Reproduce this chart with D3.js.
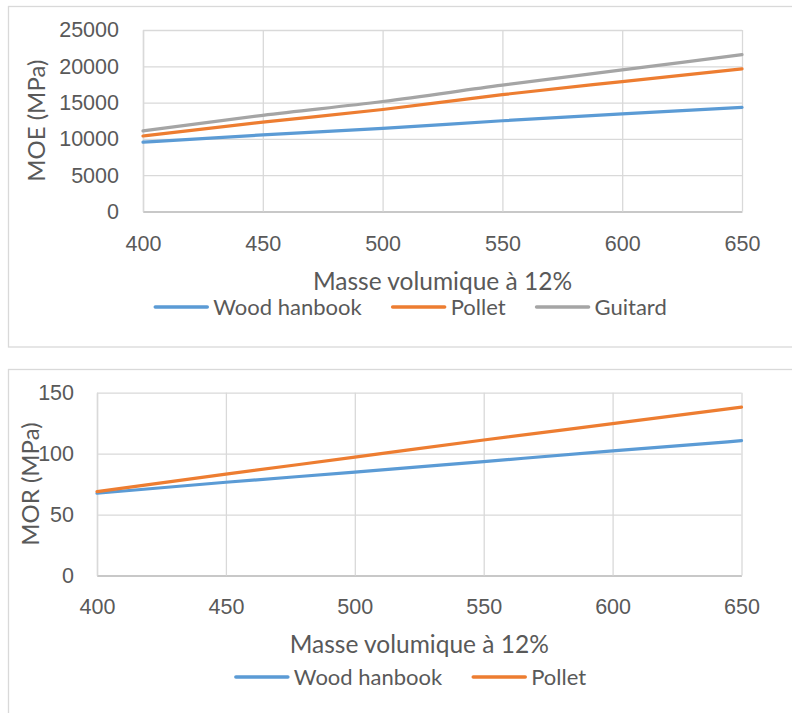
<!DOCTYPE html>
<html>
<head>
<meta charset="utf-8">
<script src="https://cdn.jsdelivr.net/npm/d3@7"></script>
<style>
  html, body { margin: 0; padding: 0; background: #fff; }
  svg { display: block; font-family: Lato, "Open Sans", sans-serif; }
</style>
</head>
<body>
<svg id="chart" width="792" height="713"></svg>
<script>
// ---- data ----
const densities = [400, 450, 500, 550, 600, 650];
const moeWood = [9550, 10550, 11450, 12500, 13450, 14350];
const moePollet = [10400, 12300, 14050, 16100, 17900, 19650];
const moeGuitard = [11100, 13250, 15150, 17400, 19500, 21600];
const morWood = [67.5, 76.5, 84.8, 93.5, 102.2, 110.6];
const morPollet = [68.8, 83.2, 97.1, 111.2, 124.6, 138.1];
const xTicks = [400, 450, 500, 550, 600, 650];
const moeTicks = [0, 5000, 10000, 15000, 20000, 25000];
const morTicks = [0, 50, 100, 150];
const seriesNames = ["Wood hanbook", "Pollet", "Guitard"];
const seriesColors = ["#5B9BD5", "#ED7D31", "#A5A5A5"];
const xTitle = "Masse volumique à 12%";

const svg = d3.select("#chart");
const TEXT = "#595959";
const GRID = "#D9D9D9";
const AXIS = "#BFBFBF";

function drawChart(cfg) {
  const g = svg.append("g");
  // outer chart box
  g.append("rect")
    .attr("x", cfg.box[0] + 0.5).attr("y", cfg.box[1] + 0.5)
    .attr("width", cfg.box[2]).attr("height", cfg.box[3])
    .attr("fill", "#fff").attr("stroke", GRID).attr("stroke-width", 1.3);

  const x = d3.scaleLinear().domain([400, 650]).range([cfg.left, cfg.right]);
  const y = d3.scaleLinear().domain(cfg.yDomain).range([cfg.bottom, cfg.top]);
  const w = cfg.right - cfg.left, h = cfg.bottom - cfg.top;

  // vertical gridlines + x tick labels
  const gx = g.append("g").attr("transform", `translate(0,${cfg.bottom})`)
    .call(d3.axisBottom(x).tickValues(xTicks).tickFormat(d3.format("d"))
      .tickSizeInner(-h).tickSizeOuter(0).tickPadding(cfg.xPad));
  gx.selectAll(".tick line").attr("stroke", GRID).attr("stroke-width", 1.3);
  gx.select(".domain").attr("stroke", AXIS).attr("stroke-width", 1.3);
  gx.selectAll("text").attr("fill", TEXT).style("font-size", "21.5px");

  // horizontal gridlines + y tick labels
  const gy = g.append("g").attr("transform", `translate(${cfg.left},0)`)
    .call(d3.axisLeft(y).tickValues(cfg.yTicks).tickFormat(d3.format("d"))
      .tickSizeInner(-w).tickSizeOuter(0).tickPadding(cfg.yPad));
  gy.selectAll(".tick line").attr("stroke", GRID).attr("stroke-width", 1.3);
  gy.select(".domain").attr("stroke", AXIS).attr("stroke-width", 1.3);
  gy.selectAll("text").attr("fill", TEXT).style("font-size", "21.5px");
  gx.raise();

  // series lines
  const line = d3.line().x((d, i) => x(densities[i])).y(d => y(d)).curve(d3.curveMonotoneX);
  cfg.series.forEach((vals, i) => {
    g.append("path").datum(vals)
      .attr("d", line).attr("fill", "none")
      .attr("stroke", seriesColors[i]).attr("stroke-width", 3.2)
      .attr("stroke-linecap", "round").attr("stroke-linejoin", "round");
  });

  // y title
  g.append("text")
    .attr("transform", `translate(${cfg.yTitleX},${(cfg.top + cfg.bottom) / 2}) rotate(-90)`)
    .attr("text-anchor", "middle").attr("fill", TEXT)
    .style("font-size", "24px").text(cfg.yTitle);

  // x title
  g.append("text")
    .attr("x", (cfg.left + cfg.right) / 2).attr("y", cfg.xTitleY)
    .attr("text-anchor", "middle").attr("fill", TEXT)
    .style("font-size", "24.5px").text(xTitle);

  // legend
  const lg = g.append("g");
  const items = cfg.series.map((s, i) => {
    const it = lg.append("g");
    it.append("line").attr("x1", 0).attr("x2", 52)
      .attr("y1", cfg.legendY - 8).attr("y2", cfg.legendY - 8)
      .attr("stroke", seriesColors[i]).attr("stroke-width", 3.5)
      .attr("stroke-linecap", "round");
    const t = it.append("text").attr("x", 58).attr("y", cfg.legendY)
      .attr("fill", TEXT).style("font-size", "22px").text(seriesNames[i]);
    return { it, w: 58 + t.node().getComputedTextLength() };
  });
  const gap = 31;
  const total = d3.sum(items, d => d.w) + gap * (items.length - 1);
  let cx = cfg.legendCenter - total / 2;
  items.forEach(d => { d.it.attr("transform", `translate(${cx},0)`); cx += d.w + gap; });
}

drawChart({
  box: [8, 6, 806, 340.5],
  left: 143, right: 742, top: 30, bottom: 211.5,
  yDomain: [0, 25000], yTicks: moeTicks,
  xPad: 24, yPad: 24,
  series: [moeWood, moePollet, moeGuitard],
  yTitle: "MOE (MPa)", yTitleX: 45,
  xTitleY: 290, legendY: 315, legendCenter: 411
});

drawChart({
  box: [8, 369, 806, 360],
  left: 97, right: 741.5, top: 392.7, bottom: 575.5,
  yDomain: [0, 150], yTicks: morTicks,
  xPad: 23.5, yPad: 23,
  series: [morWood, morPollet],
  yTitle: "MOR (MPa)", yTitleX: 38.5,
  xTitleY: 653, legendY: 685, legendCenter: 411
});
</script>
</body>
</html>
